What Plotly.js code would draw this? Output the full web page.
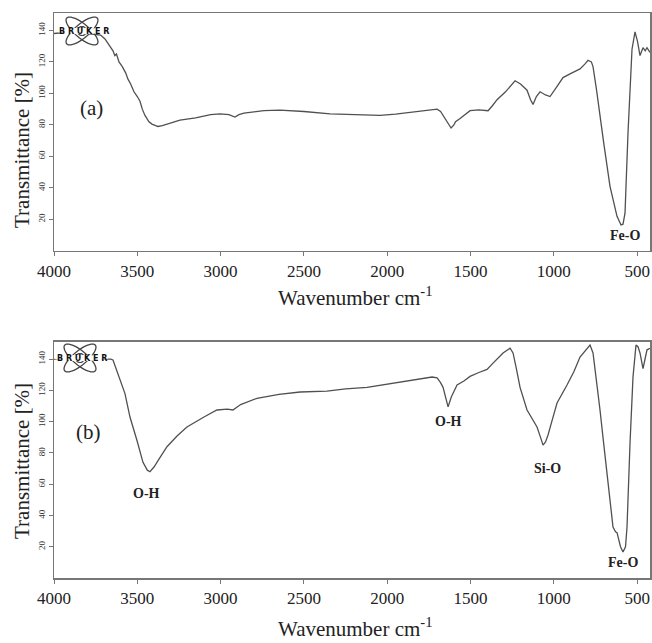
<!DOCTYPE html>
<html><head><meta charset="utf-8">
<script src="https://cdn.plot.ly/plotly-3.0.1.min.js"></script>
<style>html,body{margin:0;padding:0;background:#fff}#chart{width:652px;height:643px}</style>
</head><body><div id="chart"></div>
<script>
// Spectrum (a)
const wnA = [4000,3900,3800,3720,3694,3670,3660,3646,3635,3625,3610,3590,3570,3556,3540,3520,3500,3484,3470,3454,3430,3412,3390,3376,3350,3320,3290,3244,3150,3060,3004,2950,2914,2890,2860,2824,2740,2644,2500,2343,2200,2043,1950,1845,1780,1743,1701,1680,1665,1640,1617,1600,1590,1563,1540,1530,1503,1450,1395,1370,1341,1290,1260,1233,1200,1180,1161,1140,1125,1105,1083,1050,1023,990,945,900,843,810,795,775,765,745,723,700,663,640,621,597,585,573,555,531,513,498,483,465,452,441,423];
const tA  = [138,139,138,137,134.5,131,129,127,124,125,120,117,113,109,106,101,98,95,90,86,82,80.5,79.5,79,79.5,80.5,81.5,83,84.5,86.5,87,86.5,85,86.5,87.5,88,89,89.4,88.5,87,86.3,86,86.8,88,89,89.5,90,88.5,86,81,78,80,82,84,86,86.5,89,89.5,89,92,96,101,105,108,106,104,102,96,93,98,101,99,98,103,110,112.5,115.5,119,121,120,117,103,85,68,41,30,22,16.5,17,24,75,128,139,133,124,129,127,129,126];
// Spectrum (b)
const wnB = [4000,3900,3800,3700,3660,3646,3622,3600,3574,3544,3520,3502,3466,3440,3424,3400,3370,3322,3260,3202,3100,3022,2960,2926,2880,2782,2650,2523,2362,2250,2121,1980,1821,1731,1701,1680,1665,1650,1635,1615,1593,1581,1540,1503,1450,1401,1365,1323,1305,1263,1245,1225,1203,1161,1101,1080,1065,1050,1035,1010,981,921,880,843,810,783,765,745,723,700,675,645,630,621,600,585,570,561,543,525,507,495,483,465,455,441,423];
const tB  = [140,140.5,140,140,140,139.5,132,125,118,103,95,88,74,69,68,71,76,84,91,96.6,103,107.5,108,107.5,111,115,117.5,119,119.6,121,122,124.5,127,128.6,128,125,122,116,109.5,116,121.6,123.5,126,129,131.5,133.5,137.5,142,144,147,144,134,122,107.5,96.6,90,85,87,91.5,101,112,123.5,132,141.4,146,149,144,128,107.5,85,60.8,32.6,29.5,29,20,16.6,20,32.6,86,128.6,149,148,144,134,139,146,147];
const xTicks = [4000,3500,3000,2500,2000,1500,1000,500];
const yTicks = [20,40,60,80,100,120,140];
const panelLabels = ["(a)","(b)"];
const bandsA = [{t:"Fe-O", x:573, y:10}];
const bandsB = [{t:"O-H", x:3442, y:54},{t:"O-H", x:1635, y:100},{t:"Si-O", x:1041, y:70},{t:"Fe-O", x:585, y:9.6}];

const serif = "Liberation Serif, Times New Roman, serif";
const lineStyle = {color:'#505050', width:1.3};

const traces = [
  {x:wnA, y:tA, xaxis:'x', yaxis:'y', mode:'lines', line:lineStyle, hoverinfo:'skip'},
  {x:wnB, y:tB, xaxis:'x2', yaxis:'y2', mode:'lines', line:lineStyle, hoverinfo:'skip'}
];

// pixel -> paper helpers for decorations (margins l=54, b=65, plot 596x565)
const L=54, B=578, W=596, H=565;
const px = v => (v-L)/W, py = v => (B-v)/H;
function ellipsePath(cx, cy, a, b, angDeg){
  const t = angDeg*Math.PI/180; let s='';
  for(let i=0;i<=48;i++){
    const u = i/48*2*Math.PI;
    const x = cx + a*Math.cos(u)*Math.cos(t) - b*Math.sin(u)*Math.sin(t);
    const y = cy + a*Math.cos(u)*Math.sin(t) + b*Math.sin(u)*Math.cos(t);
    s += (i===0?'M':'L') + px(x).toFixed(5) + ',' + py(y).toFixed(5);
  }
  return s+'Z';
}
const shapes = [];
const logos = [[82,31],[80,358]];
logos.forEach(([cx,cy])=>{
  shapes.push({type:'path', xref:'paper', yref:'paper', path:ellipsePath(cx,cy,20,7,40), line:{color:'#444',width:1.3}});
  shapes.push({type:'path', xref:'paper', yref:'paper', path:ellipsePath(cx,cy,20,7,-40), line:{color:'#444',width:1.3}});
  shapes.push({type:'path', xref:'paper', yref:'paper', path:ellipsePath(cx,cy,4.5,4.5,0), line:{color:'#444',width:1.2}});
  shapes.push({type:'path', xref:'paper', yref:'paper', path:ellipsePath(cx+1,cy,27,3,0), fillcolor:'#fff', line:{width:0}});
});

const ann = (o)=>Object.assign({showarrow:false, xanchor:'center', yanchor:'middle'}, o);
const annotations = [];
logos.forEach(([cx,cy])=>{
  annotations.push(ann({xref:'paper', yref:'paper', x:px(cx+2), y:py(cy), text:'<b>B R U K E R</b>',
    font:{family:'DejaVu Sans, Arial', size:8, color:'#111'}}));
});
annotations.push(ann({xref:'x', yref:'y', x:3772, y:91, text:panelLabels[0], font:{family:serif, size:21, color:'#222'}}));
annotations.push(ann({xref:'x2', yref:'y2', x:3795, y:93.4, text:panelLabels[1], font:{family:serif, size:21, color:'#222'}}));
bandsA.forEach(b=>annotations.push(ann({xref:'x', yref:'y', x:b.x, y:b.y, text:'<b>'+b.t+'</b>', font:{family:serif, size:14, color:'#222'}})));
bandsB.forEach(b=>annotations.push(ann({xref:'x2', yref:'y2', x:b.x, y:b.y, text:'<b>'+b.t+'</b>', font:{family:serif, size:14, color:'#222'}})));
// axis titles
[150,461].forEach(cy=>annotations.push(ann({xref:'paper', yref:'paper', x:px(22), y:py(cy), text:'Transmittance [%]', textangle:-90, font:{family:serif, size:21, color:'#222'}})));
[297,627].forEach(cy=>annotations.push(ann({xref:'paper', yref:'paper', x:px(355), y:py(cy), text:'Wavenumber cm<sup>-1</sup>', font:{family:serif, size:21, color:'#222'}})));

const xax = {range:[4000,423], tickvals:xTicks, ticks:'outside', ticklen:4, tickcolor:'#777', showline:true, mirror:true, linecolor:'#777', linewidth:1.5, showgrid:false, zeroline:false, tickfont:{family:serif, size:17, color:'#222'}, fixedrange:true};
const yax = {range:[0,151], tickvals:yTicks, ticks:'outside', ticklen:4, tickcolor:'#777', tickangle:-90, showline:true, mirror:true, linecolor:'#777', linewidth:1.5, showgrid:false, zeroline:false, tickfont:{family:serif, size:9, color:'#333'}, fixedrange:true};

const layout = {
  width:652, height:643, margin:{l:54, r:2, t:13, b:65},
  paper_bgcolor:'#fff', plot_bgcolor:'#fff', showlegend:false,
  font:{family:serif},
  xaxis:Object.assign({}, xax, {anchor:'y'}),
  yaxis:Object.assign({}, yax, {domain:[0.5788,1], anchor:'x'}),
  xaxis2:Object.assign({}, xax, {anchor:'y2'}),
  yaxis2:Object.assign({}, yax, {domain:[0,0.4177], anchor:'x2'}),
  shapes:shapes, annotations:annotations
};
Plotly.newPlot('chart', traces, layout, {displayModeBar:false, staticPlot:true});
</script></body></html>
